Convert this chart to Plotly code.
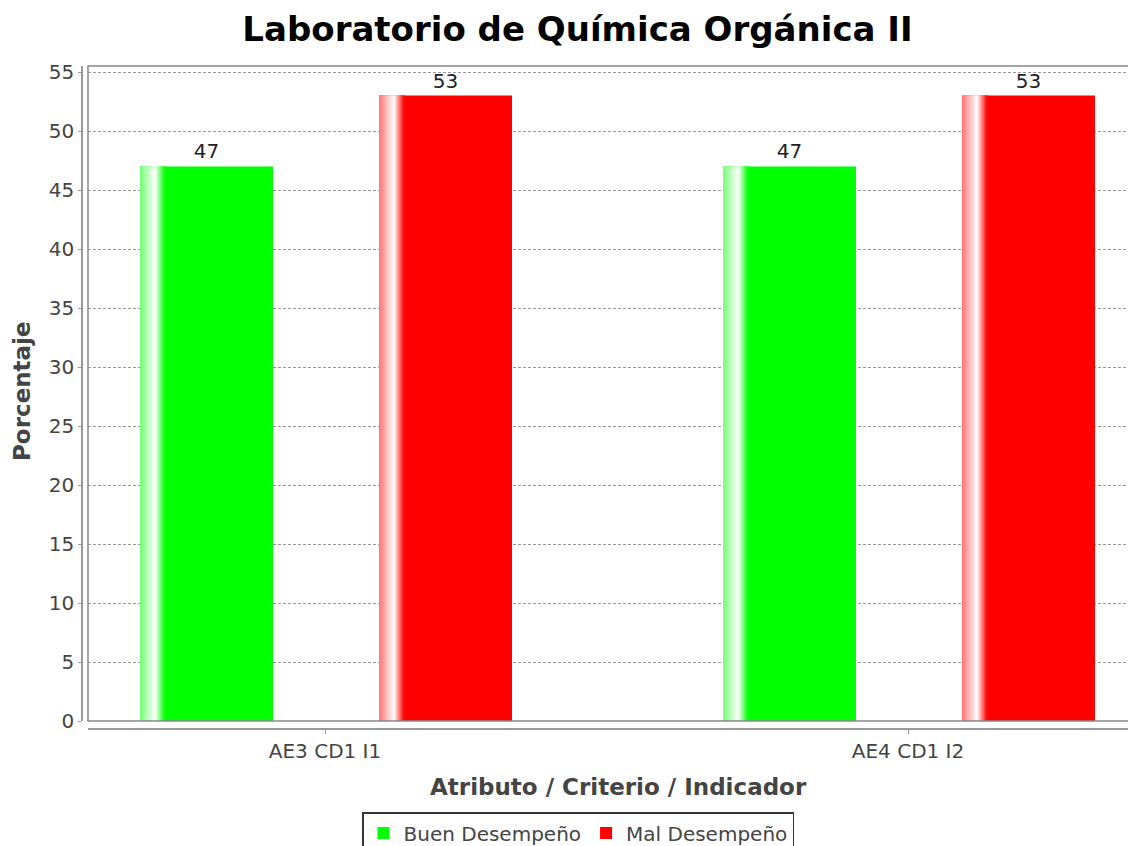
import plotly.graph_objects as go

# ---- data ----
categories = ["AE3 CD1 I1", "AE4 CD1 I2"]
buen = [47, 47]
mal = [53, 53]
series_names = ["Buen Desempeño", "Mal Desempeño"]
y_ticks = list(range(0, 56, 5))

# ---- style / layout constants (page pixel coordinates, then shifted by body margin) ----
BODY = 8  # default page margin around the plot div
W, H = 1136, 846
ML = 82 - BODY
MT = 66 - BODY
PAPER_BOTTOM = 729 - BODY
MB = H - PAPER_BOTTOM
PX_PER_UNIT = 583.0
BAR_W = 133 / PX_PER_UNIT
OFFSETS = [(140 - 325) / PX_PER_UNIT, (379 - 325) / PX_PER_UNIT]
colors = [(0, 255, 0), (255, 0, 0)]
xpos = list(range(len(categories)))


def P(x):  # page x -> figure x
    return x - BODY


fig = go.Figure()


def whiteness(t):
    if t < 15:
        return 0.45 + 0.55 * t / 15
    return max(0.0, 1 - (t - 15) / 10)


for vals, name, off, col in zip([buen, mal], series_names, OFFSETS, colors):
    fig.add_trace(go.Bar(
        x=xpos, y=vals, name=name, offset=off, width=BAR_W,
        marker=dict(color="rgb(%d,%d,%d)" % col, line=dict(width=0)),
        text=[str(v) for v in vals], textposition="outside",
        textfont=dict(size=20, color="#222", family="DejaVu Sans"),
        cliponaxis=False,
    ))
    # highlight stripe (gradient imitation)
    sx, sy, so, sc = [], [], [], []
    for xi, v in zip(xpos, vals):
        for t in range(25):
            w = whiteness(t + 0.5)
            c = tuple(int(round(ch + (255 - ch) * w)) for ch in col)
            sx.append(xi)
            sy.append(v)
            so.append(off + t / PX_PER_UNIT)
            sc.append("rgb(%d,%d,%d)" % c)
    fig.add_trace(go.Bar(
        x=sx, y=sy, offset=so, width=1.05 / PX_PER_UNIT,
        marker=dict(color=sc, line=dict(width=0)),
        showlegend=False, hoverinfo="skip",
    ))

plot_w = W - ML
plot_h = H - MT - MB
x_dom0 = 6 / plot_w
y_dom0 = 8 / plot_h
x_left = -(325 - 88) / PX_PER_UNIT
x_right = x_left + (W + BODY - 88) / PX_PER_UNIT
y_top = (721 - 66) / ((721 - 72) / 55)


def PX(x):  # page x -> paper x
    return (x - BODY - ML) / plot_w


def PY(y):  # page y -> paper y
    return (729 - y) / plot_h


fig.update_layout(
    width=W, height=H,
    margin=dict(l=ML, r=0, t=MT, b=MB),
    paper_bgcolor="white", plot_bgcolor="white",
    barmode="overlay",
    font=dict(family="DejaVu Sans", size=20, color="#444"),
    title=dict(text="<b>Laboratorio de Química Orgánica II</b>",
               x=P(577.5) / W, xanchor="center", y=1 - P(29) / H, yanchor="middle",
               font=dict(size=34, color="black", family="DejaVu Sans")),
    xaxis=dict(
        domain=[x_dom0, 1], anchor="free", position=0,
        range=[x_left, x_right], tickmode="array", tickvals=xpos, ticktext=categories,
        showline=True, linecolor="#999", linewidth=1.5,
        ticks="outside", ticklen=4, tickcolor="#999",
        showgrid=False, zeroline=False,
        tickfont=dict(size=20, color="#444"),
    ),
    yaxis=dict(
        domain=[y_dom0, 1], anchor="free", position=0,
        range=[0, y_top], tickmode="array", tickvals=y_ticks,
        showline=True, linecolor="#999", linewidth=1.5,
        ticks="outside", ticklen=3, tickcolor="#999",
        showgrid=True, gridcolor="#999", griddash="3px,2px", gridwidth=1,
        zeroline=False,
        tickfont=dict(size=20, color="#444"),
    ),
    legend=dict(
        orientation="h", x=PX(578), xanchor="center",
        y=PY(812), yanchor="top",
        bordercolor="#333", borderwidth=1.5, bgcolor="white",
        font=dict(size=20, color="#444"),
        itemwidth=30, tracegroupgap=0,
    ),
    showlegend=True,
    shapes=[dict(type="rect", xref="x domain", yref="y domain",
                 x0=0, x1=1, y0=0, y1=1, line=dict(color="#888", width=1.5),
                 layer="above")],
    annotations=[
        dict(text="<b>Porcentaje</b>", xref="paper", yref="paper",
             x=PX(22), y=PY(391), textangle=-90,
             showarrow=False, xanchor="center", yanchor="middle",
             font=dict(size=23, color="#444")),
        dict(text="<b>Atributo / Criterio / Indicador</b>", xref="paper", yref="paper",
             x=PX(618), y=PY(787),
             showarrow=False, xanchor="center", yanchor="middle",
             font=dict(size=23, color="#444")),
    ],
)

fig.write_html("out.html")
